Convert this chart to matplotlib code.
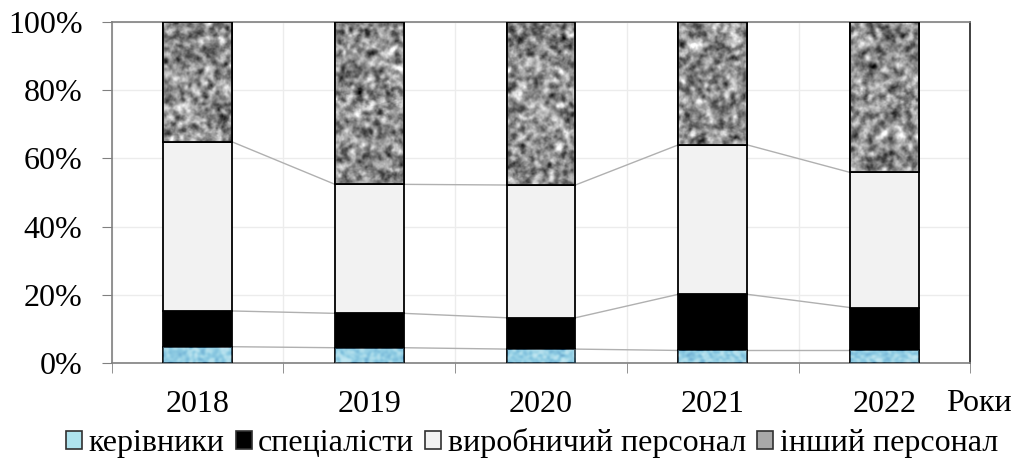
import numpy as np
import matplotlib
matplotlib.use("Agg")
import matplotlib.pyplot as plt
from matplotlib.patches import Patch

years = ["2018", "2019", "2020", "2021", "2022"]
kerivnyky = [4.7, 4.4, 4.0, 3.6, 3.6]
spetsialisty = [10.5, 10.1, 9.2, 16.5, 12.6]
vyrobnychyi = [49.7, 37.9, 39.0, 43.9, 39.7]
inshyi = [35.1, 47.6, 47.8, 36.0, 44.1]
series_names = ["керівники", "спеціалісти", "виробничий персонал", "інший персонал"]

plt.rcParams['font.family'] = ['Liberation Serif', 'DejaVu Serif']
FS = 23

fig = plt.figure(figsize=(10.16, 4.65), dpi=100)
ax = fig.add_axes([0.110, 0.220, 0.845, 0.732])

x = np.arange(len(years))
w = 0.40
series = [kerivnyky, spetsialisty, vyrobnychyi, inshyi]
colors = ["#aee3ee", "#000000", "#f2f2f2", "#a8a8a8"]
bottom = np.zeros(len(years))
tops = []
bar_containers = []
for vals, col in zip(series, colors):
    v = np.array(vals)
    bc = ax.bar(x, v, w, bottom=bottom, color=col, edgecolor="black", linewidth=1.3, zorder=3)
    bar_containers.append(bc)
    bottom = bottom + v
    tops.append(bottom.copy())

# connector lines between bars
for t in tops[:3]:
    for i in range(len(years) - 1):
        ax.plot([x[i] + w / 2, x[i + 1] - w / 2], [t[i], t[i + 1]],
                color="#b0b0b0", lw=1.0, zorder=2)

# granite texture for "інший персонал"
def smooth_noise(h, wd, seed, sigma):
    rng = np.random.default_rng(seed)
    n = rng.normal(size=(h, wd))
    r = int(3 * sigma) + 1
    k = np.exp(-0.5 * (np.arange(-r, r + 1) / sigma) ** 2)
    k /= k.sum()
    n = np.apply_along_axis(lambda row: np.convolve(row, k, mode="same"), 1, n)
    n = np.apply_along_axis(lambda col: np.convolve(col, k, mode="same"), 0, n)
    n = (n - n.mean()) / n.std()
    return n

for i, p in enumerate(bar_containers[3].patches):
    bx, by = p.get_x(), p.get_y()
    bw, bh = p.get_width(), p.get_height()
    h = int(bh * 3.4)
    tex = smooth_noise(h, 70, i, 2.0) + 0.3 * smooth_noise(h, 70, 50 + i, 0.8)
    im = ax.imshow(tex, cmap="gray", vmin=-4.0, vmax=3.2, extent=[bx, bx + bw, by, by + bh],
                   aspect="auto", interpolation="bilinear", zorder=3.5)
    im.set_clip_path(p)
    ax.bar(bx + bw / 2, bh, bw, bottom=by, fill=False, edgecolor="black", linewidth=1.3, zorder=4)

# faint texture for "керівники"
for i, p in enumerate(bar_containers[0].patches):
    bx, by = p.get_x(), p.get_y()
    bw, bh = p.get_width(), p.get_height()
    tex = smooth_noise(16, 70, 10 + i, 1.5)
    im = ax.imshow(tex, cmap="Blues", vmin=-4, vmax=4, extent=[bx, bx + bw, by, by + bh],
                   aspect="auto", interpolation="bilinear", zorder=3.4, alpha=0.35)
    im.set_clip_path(p)

ax.set_xlim(-0.5, len(years) - 0.5)
ax.set_ylim(0, 100)
ax.set_yticks([0, 20, 40, 60, 80, 100])
ax.set_yticklabels([f"{v}%" for v in [0, 20, 40, 60, 80, 100]], fontsize=FS)
ax.set_xticks(x)
ax.set_xticklabels(years, fontsize=FS)
ax.set_xticks(np.arange(-0.5, len(years), 1.0), minor=True)
ax.tick_params(axis="x", which="major", length=0, pad=20)
ax.tick_params(axis="x", which="minor", length=7, color="#808080", direction="out")
ax.tick_params(axis="y", length=7, color="#808080", direction="out", pad=14)

ax.grid(True, axis="y", color="#ececec", lw=1.0, zorder=0)
ax.grid(True, axis="x", which="minor", color="#ececec", lw=1.0, zorder=0)
ax.set_axisbelow(True)

for s in ["left", "bottom", "top"]:
    ax.spines[s].set_color("#808080")
    ax.spines[s].set_linewidth(1.2)
ax.spines["right"].set_color("#202020")
ax.spines["right"].set_linewidth(1.2)

fig.text(0.931, 1 - 403 / 465, "Роки", fontsize=FS, ha="left", va="center")

handles = [Patch(facecolor=c, edgecolor="#303030", linewidth=1.2) for c in colors]
fig.legend(handles, series_names, loc="center", bbox_to_anchor=(532 / 1016, 1 - 443 / 465), ncol=4,
           frameon=False, fontsize=FS, handlelength=0.5, handleheight=0.5,
           handletextpad=0.2, columnspacing=0.35, borderpad=0, borderaxespad=0)

fig.savefig("out.png", dpi=100)
